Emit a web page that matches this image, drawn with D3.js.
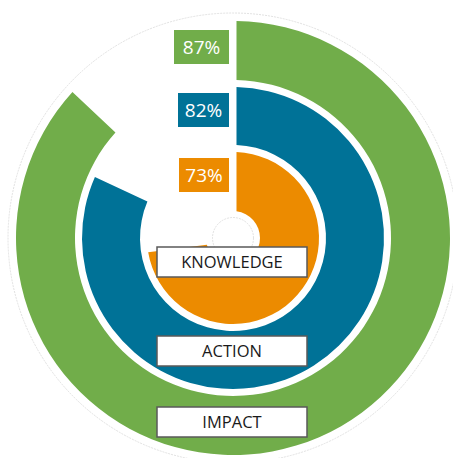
<!DOCTYPE html>
<html>
<head>
<meta charset="utf-8">
<script src="https://cdn.jsdelivr.net/npm/d3@7"></script>
<style>
  body { margin: 0; background: #fff; }
  svg { display: block; }
</style>
</head>
<body>
<svg id="chart" width="453" height="458"></svg>
<script>
var categories = ["KNOWLEDGE", "ACTION", "IMPACT"]
var values = [73, 82, 87]
var colors = ["#ec8b00", "#007297", "#71ad4a"]

var width = 453
var height = 458
var cx = 233
var cy = 238

// ring radii, inner to outer
var rings = [
    { inner: 27, outer: 86 },
    { inner: 93, outer: 151 },
    { inner: 158, outer: 217 }
]
// label boxes (below centre) and percent boxes (above centre)
var labelY = [262, 351, 422]
var pctY = [175, 110, 47]
var pctW = [50, 51, 55]

var svg = d3.select("#chart")
var g = svg.append("g").attr("transform", "translate(" + cx + "," + cy + ")")

var angle = d3.scaleLinear().domain([0, 100]).range([0, 2 * Math.PI])

g.append("circle")
    .attr("r", 225)
    .attr("fill", "none")
    .attr("stroke", "#d9d9d9")
    .attr("stroke-width", 0.8)
    .attr("stroke-dasharray", "2,1")

g.append("circle")
    .attr("r", 20.5)
    .attr("fill", "none")
    .attr("stroke", "#d9d9d9")
    .attr("stroke-width", 0.8)
    .attr("stroke-dasharray", "2,1")

var arc = d3.arc()
    .padRadius(100)
    .padAngle(0.07)

g.selectAll("path.bar")
    .data(values)
    .enter().append("path")
    .attr("class", "bar")
    .attr("fill", function(d, i) { return colors[i] })
    .attr("d", function(d, i) {
        return arc({
            innerRadius: rings[i].inner,
            outerRadius: rings[i].outer,
            startAngle: 0,
            endAngle: angle(d)
        })
    })

// percent boxes
var pct = g.selectAll("g.pct")
    .data(values)
    .enter().append("g")
    .attr("class", "pct")
    .attr("transform", function(d, i) { return "translate(0," + (pctY[i] - cy) + ")" })

pct.append("rect")
    .attr("x", function(d, i) { return -4 - pctW[i] })
    .attr("y", -17)
    .attr("width", function(d, i) { return pctW[i] })
    .attr("height", 34)
    .attr("fill", function(d, i) { return colors[i] })

pct.append("text")
    .attr("x", function(d, i) { return -4 - pctW[i] / 2 })
    .attr("dy", "0.36em")
    .attr("text-anchor", "middle")
    .attr("fill", "#fff")
    .attr("font-family", "'Open Sans', sans-serif")
    .attr("font-size", 19)
    .text(function(d) { return d + "%" })

// category label boxes
var lab = g.selectAll("g.lab")
    .data(categories)
    .enter().append("g")
    .attr("class", "lab")
    .attr("transform", function(d, i) { return "translate(0," + (labelY[i] - cy) + ")" })

lab.append("rect")
    .attr("x", -76)
    .attr("y", -15)
    .attr("width", 150)
    .attr("height", 30)
    .attr("fill", "#fff")
    .attr("stroke", "#595959")
    .attr("stroke-width", 1.5)

lab.append("text")
    .attr("x", -1)
    .attr("dy", "0.36em")
    .attr("text-anchor", "middle")
    .attr("fill", "#1a1a1a")
    .attr("font-family", "'Open Sans', sans-serif")
    .attr("font-size", 16.5)
    .text(function(d) { return d })
</script>
</body>
</html>
